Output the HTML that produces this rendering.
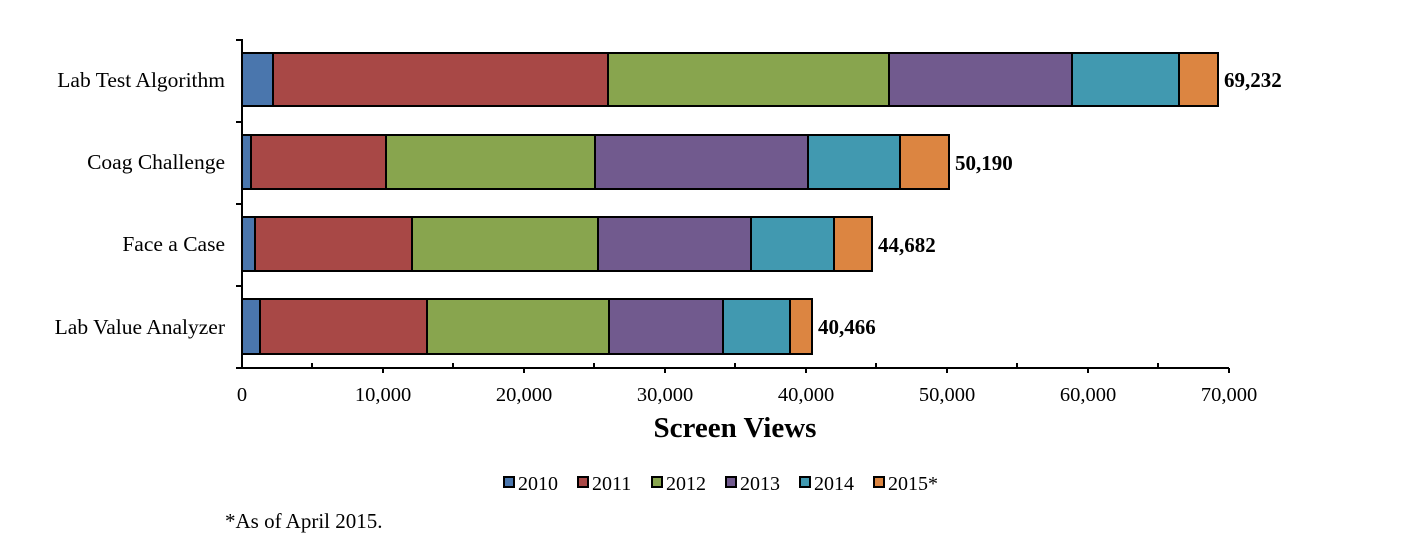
<!DOCTYPE html>
<html><head><meta charset="utf-8"><style>
html,body{margin:0;padding:0;background:#fff;}
svg{display:block;font-family:"Liberation Serif",serif;}
</style></head><body>
<svg width="1403" height="547" viewBox="0 0 1403 547" xmlns="http://www.w3.org/2000/svg">
<rect width="1403" height="547" fill="#fff"/>
<g stroke="#000" stroke-width="2">
<rect x="242" y="53" width="31" height="53" fill="#4a76ad"/>
<rect x="273" y="53" width="335" height="53" fill="#a84846"/>
<rect x="608" y="53" width="281" height="53" fill="#88a54e"/>
<rect x="889" y="53" width="183" height="53" fill="#715a8e"/>
<rect x="1072" y="53" width="107" height="53" fill="#4199b0"/>
<rect x="1179" y="53" width="39" height="53" fill="#dc8541"/>
<rect x="242" y="135" width="9" height="54" fill="#4a76ad"/>
<rect x="251" y="135" width="135" height="54" fill="#a84846"/>
<rect x="386" y="135" width="209" height="54" fill="#88a54e"/>
<rect x="595" y="135" width="213" height="54" fill="#715a8e"/>
<rect x="808" y="135" width="92" height="54" fill="#4199b0"/>
<rect x="900" y="135" width="49" height="54" fill="#dc8541"/>
<rect x="242" y="217" width="13" height="54" fill="#4a76ad"/>
<rect x="255" y="217" width="157" height="54" fill="#a84846"/>
<rect x="412" y="217" width="186" height="54" fill="#88a54e"/>
<rect x="598" y="217" width="153" height="54" fill="#715a8e"/>
<rect x="751" y="217" width="83" height="54" fill="#4199b0"/>
<rect x="834" y="217" width="38" height="54" fill="#dc8541"/>
<rect x="242" y="299" width="18" height="55" fill="#4a76ad"/>
<rect x="260" y="299" width="167" height="55" fill="#a84846"/>
<rect x="427" y="299" width="182" height="55" fill="#88a54e"/>
<rect x="609" y="299" width="114" height="55" fill="#715a8e"/>
<rect x="723" y="299" width="67" height="55" fill="#4199b0"/>
<rect x="790" y="299" width="22" height="55" fill="#dc8541"/>
<line x1="242" y1="39" x2="242" y2="369"/>
<line x1="236" y1="368" x2="1229" y2="368"/>
<line x1="236" y1="40" x2="242" y2="40"/>
<line x1="236" y1="122" x2="242" y2="122"/>
<line x1="236" y1="204" x2="242" y2="204"/>
<line x1="236" y1="286" x2="242" y2="286"/>
<line x1="383" y1="368" x2="383" y2="373"/>
<line x1="524" y1="368" x2="524" y2="373"/>
<line x1="665" y1="368" x2="665" y2="373"/>
<line x1="806" y1="368" x2="806" y2="373"/>
<line x1="947" y1="368" x2="947" y2="373"/>
<line x1="1088" y1="368" x2="1088" y2="373"/>
<line x1="1229" y1="368" x2="1229" y2="373"/>
<line x1="312" y1="363" x2="312" y2="368"/>
<line x1="453" y1="363" x2="453" y2="368"/>
<line x1="594" y1="363" x2="594" y2="368"/>
<line x1="735" y1="363" x2="735" y2="368"/>
<line x1="876" y1="363" x2="876" y2="368"/>
<line x1="1017" y1="363" x2="1017" y2="368"/>
<line x1="1158" y1="363" x2="1158" y2="368"/>
</g>
<g font-size="21.5" text-anchor="end" fill="#000">
<text x="225" y="87">Lab Test Algorithm</text>
<text x="225" y="169">Coag Challenge</text>
<text x="225" y="251">Face a Case</text>
<text x="225" y="334">Lab Value Analyzer</text>
</g>
<g font-size="20.5" text-anchor="middle">
<text x="242" y="401">0</text>
<text x="383" y="401">10,000</text>
<text x="524" y="401">20,000</text>
<text x="665" y="401">30,000</text>
<text x="806" y="401">40,000</text>
<text x="947" y="401">50,000</text>
<text x="1088" y="401">60,000</text>
<text x="1229" y="401">70,000</text>
</g>
<text x="735" y="437" font-size="29" font-weight="bold" text-anchor="middle">Screen Views</text>
<g font-size="21" font-weight="bold">
<text x="1224" y="87">69,232</text>
<text x="955" y="170">50,190</text>
<text x="878" y="252">44,682</text>
<text x="818" y="334">40,466</text>
</g>
<g stroke="#000" stroke-width="2">
<rect x="504" y="477" width="10" height="10" fill="#4a76ad"/>
<rect x="578" y="477" width="10" height="10" fill="#a84846"/>
<rect x="652" y="477" width="10" height="10" fill="#88a54e"/>
<rect x="726" y="477" width="10" height="10" fill="#715a8e"/>
<rect x="800" y="477" width="10" height="10" fill="#4199b0"/>
<rect x="874" y="477" width="10" height="10" fill="#dc8541"/>
</g>
<g font-size="20">
<text x="518" y="490">2010</text>
<text x="592" y="490">2011</text>
<text x="666" y="490">2012</text>
<text x="740" y="490">2013</text>
<text x="814" y="490">2014</text>
<text x="888" y="490">2015*</text>
</g>
<text x="225" y="528" font-size="21">*As of April 2015.</text>
</svg>
</body></html>
